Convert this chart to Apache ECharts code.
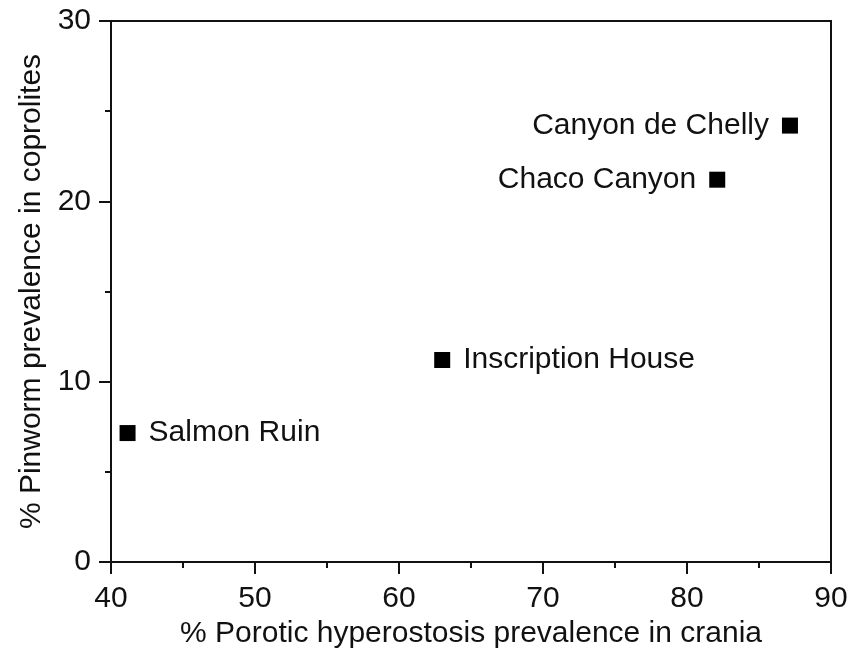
<!DOCTYPE html>
<html lang="en">
<head>
    <meta charset="UTF-8">
    <title>Pinworm vs porotic hyperostosis</title>
    <style>
        *{
            margin:0;
            padding:0;
            box-sizing:border-box;
        }
        html, body{
            height:100%;
            width:100%;
            background:#fff;
        }
        #myChart{
            height:651px;
            width:851px;
        }
    </style>
</head>
<body>
<div id="myChart"></div>
<script src="https://cdn.jsdelivr.net/npm/echarts@6/dist/echarts.min.js"></script>
<script>
    var sites = ['Salmon Ruin', 'Inscription House', 'Chaco Canyon', 'Canyon de Chelly'];
    var porotic = [41.15, 63.0, 82.1, 87.15];   // % porotic hyperostosis in crania
    var pinworm = [7.15, 11.2, 21.2, 24.2];     // % pinworm in coprolites

    // labels that sit on the left of their marker
    var leftLabels = {'Chaco Canyon': true, 'Canyon de Chelly': true};

    var points = sites.map(function(name, i) {
        return {
            value:[porotic[i], pinworm[i]],
            name:name,
            label:{position:leftLabels[name] ? 'left' : 'right'}
        };
    });

    var font = 'Liberation Sans, Arial, sans-serif';
    var ink = '#111';

    var myChart = echarts.init(document.getElementById('myChart'));
    var option = {
        backgroundColor:'#fff',
        animation:false,
        grid:{
            left:111,
            right:20,
            top:21,
            bottom:89,
            outerBoundsMode:'none',
            containLabel:false,
            show:true,
            borderColor:ink,
            borderWidth:2,
            backgroundColor:'transparent'
        },
        xAxis:{
            type:'value',
            min:40,
            max:90,
            interval:10,
            name:'% Porotic hyperostosis prevalence in crania',
            nameLocation:'middle',
            nameGap:57,
            nameTextStyle:{color:ink, fontSize:30, fontFamily:font},
            axisLine:{lineStyle:{color:ink, width:2}},
            axisTick:{length:12, lineStyle:{color:ink, width:2}},
            minorTick:{show:true, splitNumber:2, length:6, lineStyle:{color:ink, width:2}},
            axisLabel:{color:ink, fontSize:30, fontFamily:font, margin:22},
            splitLine:{show:false}
        },
        yAxis:{
            type:'value',
            min:0,
            max:30,
            interval:10,
            name:'% Pinworm prevalence in coprolites',
            nameLocation:'middle',
            nameGap:64,
            nameTextStyle:{color:ink, fontSize:30, fontFamily:font},
            axisLine:{lineStyle:{color:ink, width:2}},
            axisTick:{length:12, lineStyle:{color:ink, width:2}},
            minorTick:{show:true, splitNumber:2, length:6, lineStyle:{color:ink, width:2}},
            axisLabel:{color:ink, fontSize:30, fontFamily:font, margin:20},
            splitLine:{show:false}
        },
        series:[
            {
                type:'scatter',
                symbol:'rect',
                symbolSize:16,
                itemStyle:{color:'#000', opacity:1},
                label:{
                    show:true,
                    formatter:'{b}',
                    distance:13,
                    color:ink,
                    fontSize:30,
                    fontFamily:font
                },
                data:points
            }
        ]
    };
    myChart.setOption(option);
</script>
</body>
</html>
